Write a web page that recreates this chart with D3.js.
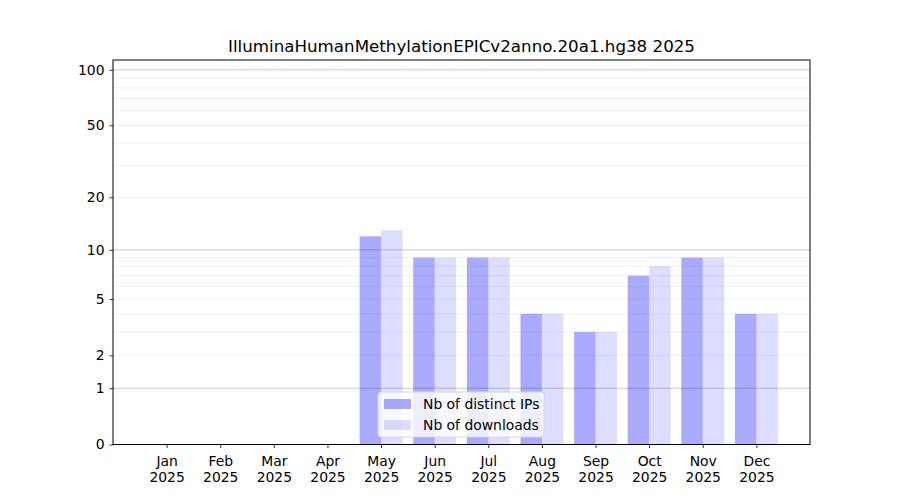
<!DOCTYPE html>
<html>
<head>
<meta charset="utf-8">
<script src="https://cdn.jsdelivr.net/npm/d3@7"></script>
<style>
  body { margin: 0; background: #fff; }
  text { font-family: "DejaVu Sans", sans-serif; }
</style>
</head>
<body>
<div id="viz"></div>
<script>
// Chart data
const title = "IlluminaHumanMethylationEPICv2anno.20a1.hg38 2025";
const months = ["Jan", "Feb", "Mar", "Apr", "May", "Jun", "Jul", "Aug", "Sep", "Oct", "Nov", "Dec"];
const year = "2025";
const distinctIPs = [0, 0, 0, 0, 12, 9, 9, 4, 3, 7, 9, 4];
const downloads = [0, 0, 0, 0, 13, 9, 9, 4, 3, 8, 9, 4];
const yTicks = [0, 1, 2, 5, 10, 20, 50, 100];
const majorGrid = [1, 10, 100];
const minorGrid = [2, 3, 4, 5, 6, 7, 8, 9, 20, 30, 40, 50, 60, 70, 80, 90];
const seriesNames = ["Nb of distinct IPs", "Nb of downloads"];

const width = 900;
const height = 500;
const margin = { top: 60, right: 90, bottom: 55.5, left: 113 };

const svg = d3.select("#viz")
    .append("svg")
    .attr("width", width)
    .attr("height", height);

// Scales: x in month index units, y symmetric log (log(1+x))
const x = d3.scaleLinear()
    .domain([-1, 12])
    .range([margin.left, width - margin.right]);

const y = d3.scaleSymlog()
    .constant(1)
    .domain([0, 113])
    .range([height - margin.bottom, margin.top]);

const barW = 0.4;

// Grid lines
svg.append("g")
    .selectAll("line.minor")
    .data(minorGrid)
    .join("line")
    .attr("x1", margin.left)
    .attr("x2", width - margin.right)
    .attr("y1", d => y(d))
    .attr("y2", d => y(d))
    .attr("stroke", "#ebebeb")
    .attr("stroke-width", 0.8);

svg.append("g")
    .selectAll("line.major")
    .data(majorGrid)
    .join("line")
    .attr("x1", margin.left)
    .attr("x2", width - margin.right)
    .attr("y1", d => y(d))
    .attr("y2", d => y(d))
    .attr("stroke", "#cccccc")
    .attr("stroke-width", 1);

// Bars
svg.append("g")
    .selectAll("rect")
    .data(distinctIPs)
    .join("rect")
    .attr("x", (d, i) => x(i - barW))
    .attr("width", x(barW) - x(0))
    .attr("y", d => y(d))
    .attr("height", d => y(0) - y(d))
    .attr("fill", "blue")
    .attr("fill-opacity", 0.333);

svg.append("g")
    .selectAll("rect")
    .data(downloads)
    .join("rect")
    .attr("x", (d, i) => x(i))
    .attr("width", x(barW) - x(0))
    .attr("y", d => y(d))
    .attr("height", d => y(0) - y(d))
    .attr("fill", "blue")
    .attr("fill-opacity", 0.135);

// Axes
const xAxis = svg.append("g")
    .attr("transform", `translate(0,${height - margin.bottom})`)
    .call(d3.axisBottom(x)
        .tickValues(d3.range(months.length))
        .tickSize(3.5)
        .tickFormat(""));

xAxis.selectAll(".tick text").remove();
xAxis.selectAll(".tick")
    .append("text")
    .attr("fill", "#000")
    .attr("text-anchor", "middle")
    .style("font-size", "13.9px")
    .selectAll("tspan")
    .data(i => [months[i], year])
    .join("tspan")
    .attr("x", 0)
    .attr("y", (d, j) => 21 + j * 16)
    .text(d => d);

const yAxis = svg.append("g")
    .attr("transform", `translate(${margin.left},0)`)
    .call(d3.axisLeft(y)
        .tickValues(yTicks)
        .tickSize(3.5)
        .tickPadding(5)
        .tickFormat(d3.format("d")));

yAxis.selectAll(".tick text").style("font-size", "13.9px").attr("fill", "#000");

svg.selectAll(".domain").remove();
svg.selectAll(".tick line").attr("stroke", "#000").attr("stroke-width", 0.8);

// Frame
svg.append("rect")
    .attr("x", margin.left)
    .attr("y", margin.top)
    .attr("width", width - margin.left - margin.right)
    .attr("height", height - margin.top - margin.bottom)
    .attr("fill", "none")
    .attr("stroke", "#000")
    .attr("stroke-width", 1);

// Title
svg.append("text")
    .attr("x", (margin.left + width - margin.right) / 2)
    .attr("y", 52)
    .attr("text-anchor", "middle")
    .style("font-size", "16.7px")
    .text(title);

// Legend
const legend = svg.append("g")
    .attr("transform", "translate(378,392)");

legend.append("rect")
    .attr("width", 166)
    .attr("height", 45)
    .attr("rx", 3)
    .attr("fill", "#fff")
    .attr("fill-opacity", 0.8)
    .attr("stroke", "#d6d6d6");

const items = legend.selectAll("g.item")
    .data(seriesNames)
    .join("g")
    .attr("transform", (d, i) => `translate(6,${7 + i * 21})`);

items.append("rect")
    .attr("width", 27)
    .attr("height", 10)
    .attr("fill", "blue")
    .attr("fill-opacity", (d, i) => i === 0 ? 0.333 : 0.135);

items.append("text")
    .attr("x", 39)
    .attr("y", 10)
    .style("font-size", "13.9px")
    .text(d => d);
</script>
</body>
</html>
